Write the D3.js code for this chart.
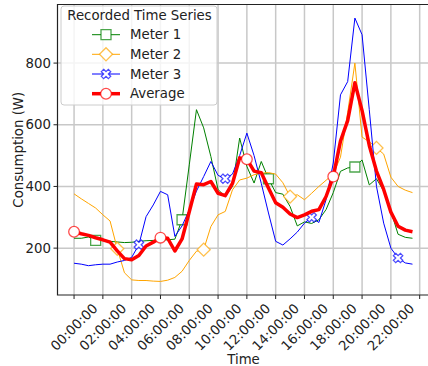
<!DOCTYPE html>
<html>
<head>
<meta charset="utf-8">
<script src="https://cdn.jsdelivr.net/npm/d3@7"></script>
<style>
  body { margin: 0; background: #fff; }
  svg { display: block; font-family: "DejaVu Sans", sans-serif; }
</style>
</head>
<body>
<svg id="chart" width="428" height="366"></svg>
<script>
// half-hourly readings, 00:00 .. 23:30
const slots = d3.range(48).map(i => i * 30) // minutes since midnight

const meter1 = [232, 232, 236, 225, 225, 222, 220, 218, 219, 222, 224, 225,
  226, 227, 229, 292, 470, 649, 590, 497, 390, 367, 400, 557,
  465, 411, 481, 425, 380, 375, 335, 272, 285, 280, 292, 325,
  380, 449, 460, 463, 486, 405, 425, 385, 320, 245, 235, 232]

const meter2 = [376, 360, 345, 330, 308, 288, 198, 120, 97, 95, 95, 93,
  92, 96, 105, 125, 160, 190, 195, 270, 308, 319, 389, 421,
  427, 438, 443, 445, 440, 412, 367, 373, 357, 378, 400, 420,
  440, 495, 640, 800, 560, 545, 525, 505, 430, 400, 388, 380]

const meter3 = [151, 148, 143, 146, 148, 148, 155, 160, 170, 211, 302, 340,
  384, 373, 238, 272, 324, 385, 432, 481, 436, 425, 440, 500,
  573, 500, 410, 314, 222, 210, 230, 252, 281, 300, 283, 357,
  476, 697, 740, 946, 892, 649, 400, 281, 200, 168, 152, 148]

const average = slots.map((_, i) => (meter1[i] + meter2[i] + meter3[i]) / 3)

const yTicks = [200, 400, 600, 800]
const xTickHours = d3.range(0, 25, 2)

const series = [
  { name: 'Meter 1', values: meter1, color: '#008000', width: 1, marker: 'square', offset: 3 },
  { name: 'Meter 2', values: meter2, color: '#FFA500', width: 1, marker: 'diamond', offset: 6 },
  { name: 'Meter 3', values: meter3, color: '#0000FF', width: 1, marker: 'x', offset: 9 },
  { name: 'Average', values: average, color: '#FF0000', width: 3.5, marker: 'circle', offset: 0 },
]

const plot = { left: 57.5, right: 430, top: 4.5, bottom: 295 }
const day = new Date(Date.UTC(2020, 0, 1))
const at = (min) => new Date(day.getTime() + min * 60000)

const x = d3.scaleUtc()
  .domain([at(-69), at(24 * 60 + 43)])
  .range([plot.left, plot.right])

const y = d3.scaleLinear()
  .domain([48, 990])
  .range([plot.bottom, plot.top])

const svg = d3.select('#chart')

// grid
svg.append('g').selectAll('line.v')
  .data(xTickHours)
  .join('line')
    .attr('x1', h => x(at(h * 60))).attr('x2', h => x(at(h * 60)))
    .attr('y1', plot.top).attr('y2', plot.bottom)
    .attr('stroke', '#c8c8c8').attr('stroke-width', 1.5)

svg.append('g').selectAll('line.h')
  .data(yTicks)
  .join('line')
    .attr('x1', plot.left).attr('x2', plot.right)
    .attr('y1', d => y(d)).attr('y2', d => y(d))
    .attr('stroke', '#c8c8c8').attr('stroke-width', 1.5)

// lines
const line = d3.line()
  .x((d, i) => x(at(slots[i])))
  .y(d => y(d))

const symbolPath = {
  square: d3.symbol(d3.symbolSquare, 100)(),
  diamond: d3.symbol(d3.symbolSquare, 85)(),
  x: d3.symbol(d3.symbolCross, 55)(),
  circle: d3.symbol(d3.symbolCircle, 90)(),
}
const symbolRotate = { square: 0, diamond: 45, x: 45, circle: 0 }

function drawMarker(g, s, px, py) {
  g.append('path')
    .attr('d', symbolPath[s.marker])
    .attr('transform', `translate(${px},${py}) rotate(${symbolRotate[s.marker]})`)
    .attr('fill', '#fff')
    .attr('stroke', s.color)
    .attr('stroke-opacity', 0.7)
    .attr('stroke-width', 1.3)
}

const lines = svg.append('g')
series.forEach(s => {
  const g = lines.append('g')
  g.append('path')
    .attr('d', line(s.values))
    .attr('fill', 'none')
    .attr('stroke', s.color)
    .attr('stroke-width', s.width)
    .attr('stroke-linejoin', 'round')
  s.values.forEach((v, i) => {
    if (i >= s.offset && (i - s.offset) % 12 === 0) {
      drawMarker(g, s, x(at(slots[i])), y(v))
    }
  })
})

// spines
svg.append('path')
  .attr('d', `M${plot.right},${plot.top}H${plot.left}V${plot.bottom}H${plot.right}`)
  .attr('fill', 'none')
  .attr('stroke', '#222')
  .attr('stroke-width', 1.2)

// x ticks
const fmt = d3.utcFormat('%H:%M:%S')
const xt = svg.append('g').selectAll('g')
  .data(xTickHours)
  .join('g')
    .attr('transform', h => `translate(${x(at(h * 60))},${plot.bottom})`)
xt.append('line').attr('y2', 4).attr('stroke', '#222').attr('stroke-width', 1)
xt.filter(h => h < 24).append('text')
  .attr('transform', 'translate(0,32) rotate(-45)')
  .attr('text-anchor', 'middle')
  .attr('dy', '0.35em')
  .attr('font-size', 13.3)
  .attr('fill', '#222')
  .text(h => fmt(at(h * 60)))

// y ticks
const yt = svg.append('g').selectAll('g')
  .data(yTicks)
  .join('g')
    .attr('transform', d => `translate(${plot.left},${y(d)})`)
yt.append('line').attr('x2', -4).attr('stroke', '#222').attr('stroke-width', 1)
yt.append('text')
  .attr('x', -6.5)
  .attr('dy', '0.35em')
  .attr('text-anchor', 'end')
  .attr('font-size', 13.3)
  .attr('fill', '#222')
  .text(d => d)

// axis labels
svg.append('text')
  .attr('x', 243.5).attr('y', 364)
  .attr('text-anchor', 'middle')
  .attr('font-size', 13.3)
  .attr('fill', '#222')
  .text('Time')

svg.append('text')
  .attr('transform', `translate(23,${(plot.top + plot.bottom) / 2}) rotate(-90)`)
  .attr('text-anchor', 'middle')
  .attr('font-size', 13.3)
  .attr('fill', '#222')
  .text('Consumption (W)')

// legend
const legend = svg.append('g')
legend.append('rect')
  .attr('x', 61).attr('y', 6).attr('width', 156).attr('height', 99).attr('rx', 3)
  .attr('fill', '#fff').attr('fill-opacity', 0.8)
  .attr('stroke', '#ccc')
legend.append('text')
  .attr('x', 139.5).attr('y', 19.5)
  .attr('text-anchor', 'middle')
  .attr('font-size', 13.3)
  .attr('fill', '#222')
  .text('Recorded Time Series')

const rowY = [34.7, 54.3, 74, 93.7]
series.forEach((s, i) => {
  const g = legend.append('g')
  g.append('line')
    .attr('x1', 92).attr('x2', 120)
    .attr('y1', rowY[i]).attr('y2', rowY[i])
    .attr('stroke', s.color).attr('stroke-width', s.width)
  drawMarker(g, s, 106, rowY[i])
  g.append('text')
    .attr('x', 130).attr('y', rowY[i])
    .attr('dy', '0.35em')
    .attr('font-size', 13.3)
    .attr('fill', '#222')
    .text(s.name)
})
</script>
</body>
</html>
